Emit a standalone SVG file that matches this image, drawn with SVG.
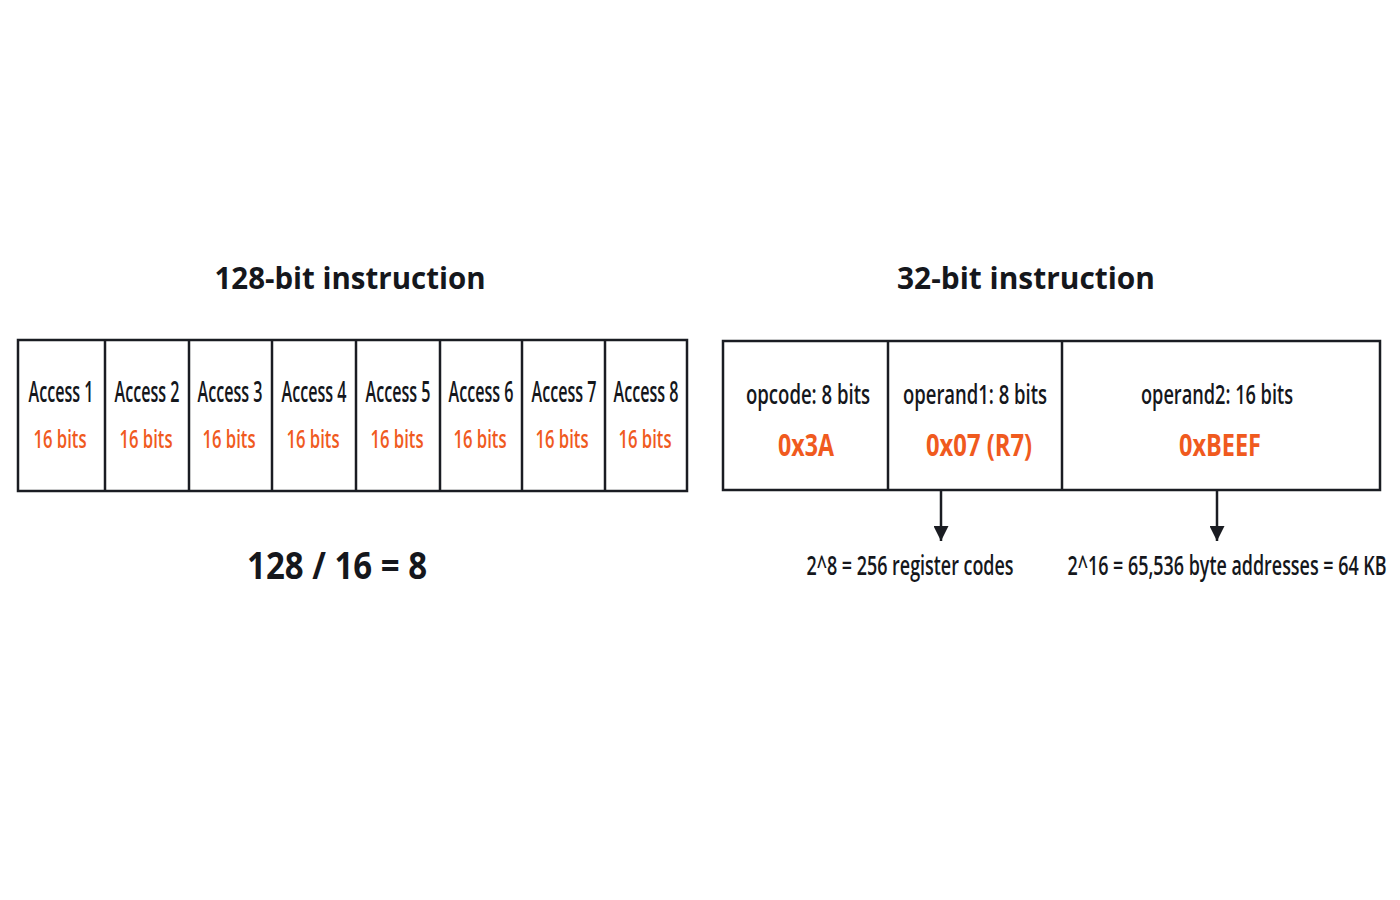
<svg xmlns="http://www.w3.org/2000/svg" width="1400" height="900" viewBox="0 0 1400 900">
<defs>
<style>
.box{fill:#ffffff;stroke:#1a1c22;stroke-width:2.5}
.div{stroke:#1a1c22;stroke-width:2.5}
.t{font-family:"Open Sans","Noto Sans","Liberation Sans",sans-serif;fill:#15171c;text-anchor:middle}
.title{font-weight:700;font-size:31px}
.acc{font-size:28px;font-weight:600}
.bits{font-size:26px;fill:#f05a1e;font-weight:600}
.lbl{font-size:27px;font-weight:600}
.hex{font-size:31px;fill:#f05a1e;font-weight:700}
.eq{font-size:37px;font-weight:700}
.note{font-size:27px;font-weight:600}
.conn{stroke:#1a1c22;stroke-width:2.5;fill:none}
</style>
<marker id="arr" viewBox="0 0 10 10" refX="10" refY="5" markerWidth="6" markerHeight="6" markerUnits="strokeWidth" orient="auto">
<path d="M0,0 L10,5 L0,10 z" fill="#1a1c22"/>
</marker>
</defs>
<rect width="1400" height="900" fill="#ffffff"/>

<g id="title128">
<text class="t title" x="350" y="289" textLength="271" lengthAdjust="spacingAndGlyphs">128-bit instruction</text>
</g>
<g id="title32">
<text class="t title" x="1026" y="289" textLength="258" lengthAdjust="spacingAndGlyphs">32-bit instruction</text>
</g>

<g id="box128">
<rect class="box" x="18" y="340" width="669" height="151"/>
<line class="div" x1="105" y1="340" x2="105" y2="491"/>
<line class="div" x1="189" y1="340" x2="189" y2="491"/>
<line class="div" x1="272" y1="340" x2="272" y2="491"/>
<line class="div" x1="356" y1="340" x2="356" y2="491"/>
<line class="div" x1="440" y1="340" x2="440" y2="491"/>
<line class="div" x1="522" y1="340" x2="522" y2="491"/>
<line class="div" x1="605" y1="340" x2="605" y2="491"/>
</g>
<g id="access1"><text class="t acc" transform="translate(61,402) scale(0.62,1)" textLength="104.8" lengthAdjust="spacingAndGlyphs">Access 1</text><text class="t bits" transform="translate(60,448) scale(0.62,1)" textLength="85.5" lengthAdjust="spacingAndGlyphs">16 bits</text></g>
<g id="access2"><text class="t acc" transform="translate(147,402) scale(0.62,1)" textLength="104.8" lengthAdjust="spacingAndGlyphs">Access 2</text><text class="t bits" transform="translate(146,448) scale(0.62,1)" textLength="85.5" lengthAdjust="spacingAndGlyphs">16 bits</text></g>
<g id="access3"><text class="t acc" transform="translate(230,402) scale(0.62,1)" textLength="104.8" lengthAdjust="spacingAndGlyphs">Access 3</text><text class="t bits" transform="translate(229,448) scale(0.62,1)" textLength="85.5" lengthAdjust="spacingAndGlyphs">16 bits</text></g>
<g id="access4"><text class="t acc" transform="translate(314,402) scale(0.62,1)" textLength="104.8" lengthAdjust="spacingAndGlyphs">Access 4</text><text class="t bits" transform="translate(313,448) scale(0.62,1)" textLength="85.5" lengthAdjust="spacingAndGlyphs">16 bits</text></g>
<g id="access5"><text class="t acc" transform="translate(398,402) scale(0.62,1)" textLength="104.8" lengthAdjust="spacingAndGlyphs">Access 5</text><text class="t bits" transform="translate(397,448) scale(0.62,1)" textLength="85.5" lengthAdjust="spacingAndGlyphs">16 bits</text></g>
<g id="access6"><text class="t acc" transform="translate(481,402) scale(0.62,1)" textLength="104.8" lengthAdjust="spacingAndGlyphs">Access 6</text><text class="t bits" transform="translate(480,448) scale(0.62,1)" textLength="85.5" lengthAdjust="spacingAndGlyphs">16 bits</text></g>
<g id="access7"><text class="t acc" transform="translate(564,402) scale(0.62,1)" textLength="104.8" lengthAdjust="spacingAndGlyphs">Access 7</text><text class="t bits" transform="translate(562,448) scale(0.62,1)" textLength="85.5" lengthAdjust="spacingAndGlyphs">16 bits</text></g>
<g id="access8"><text class="t acc" transform="translate(646,402) scale(0.62,1)" textLength="104.8" lengthAdjust="spacingAndGlyphs">Access 8</text><text class="t bits" transform="translate(645,448) scale(0.62,1)" textLength="85.5" lengthAdjust="spacingAndGlyphs">16 bits</text></g>

<g id="division">
<text class="t eq" transform="translate(337,579) scale(0.8,1)" textLength="225" lengthAdjust="spacingAndGlyphs">128 / 16 = 8</text>
</g>

<g id="box32">
<rect class="box" x="723" y="341" width="657" height="149"/>
<line class="div" x1="888" y1="341" x2="888" y2="490"/>
<line class="div" x1="1062" y1="341" x2="1062" y2="490"/>
</g>
<g id="opcode"><text class="t lbl" transform="translate(808,404) scale(0.62,1)" textLength="200" lengthAdjust="spacingAndGlyphs">opcode: 8 bits</text><text class="t hex" transform="translate(806,456) scale(0.62,1)" textLength="90.3" lengthAdjust="spacingAndGlyphs">0x3A</text></g>
<g id="operand1"><text class="t lbl" transform="translate(975,404) scale(0.62,1)" textLength="232.3" lengthAdjust="spacingAndGlyphs">operand1: 8 bits</text><text class="t hex" transform="translate(979,456) scale(0.62,1)" textLength="171" lengthAdjust="spacingAndGlyphs">0x07 (R7)</text></g>
<g id="operand2"><text class="t lbl" transform="translate(1217,404) scale(0.62,1)" textLength="245.2" lengthAdjust="spacingAndGlyphs">operand2: 16 bits</text><text class="t hex" transform="translate(1220,456) scale(0.62,1)" textLength="132.3" lengthAdjust="spacingAndGlyphs">0xBEEF</text></g>

<g id="connectors">
<line class="conn" x1="941" y1="491" x2="941" y2="541" marker-end="url(#arr)"/>
<line class="conn" x1="1217" y1="491" x2="1217" y2="541" marker-end="url(#arr)"/>
</g>

<g id="note-registers"><text class="t note" transform="translate(910,575) scale(0.62,1)" textLength="333.9" lengthAdjust="spacingAndGlyphs">2^8 = 256 register codes</text></g>
<g id="note-addresses"><text class="t note" transform="translate(1227,575) scale(0.62,1)" textLength="514.5" lengthAdjust="spacingAndGlyphs">2^16 = 65,536 byte addresses = 64 KB</text></g>
</svg>
